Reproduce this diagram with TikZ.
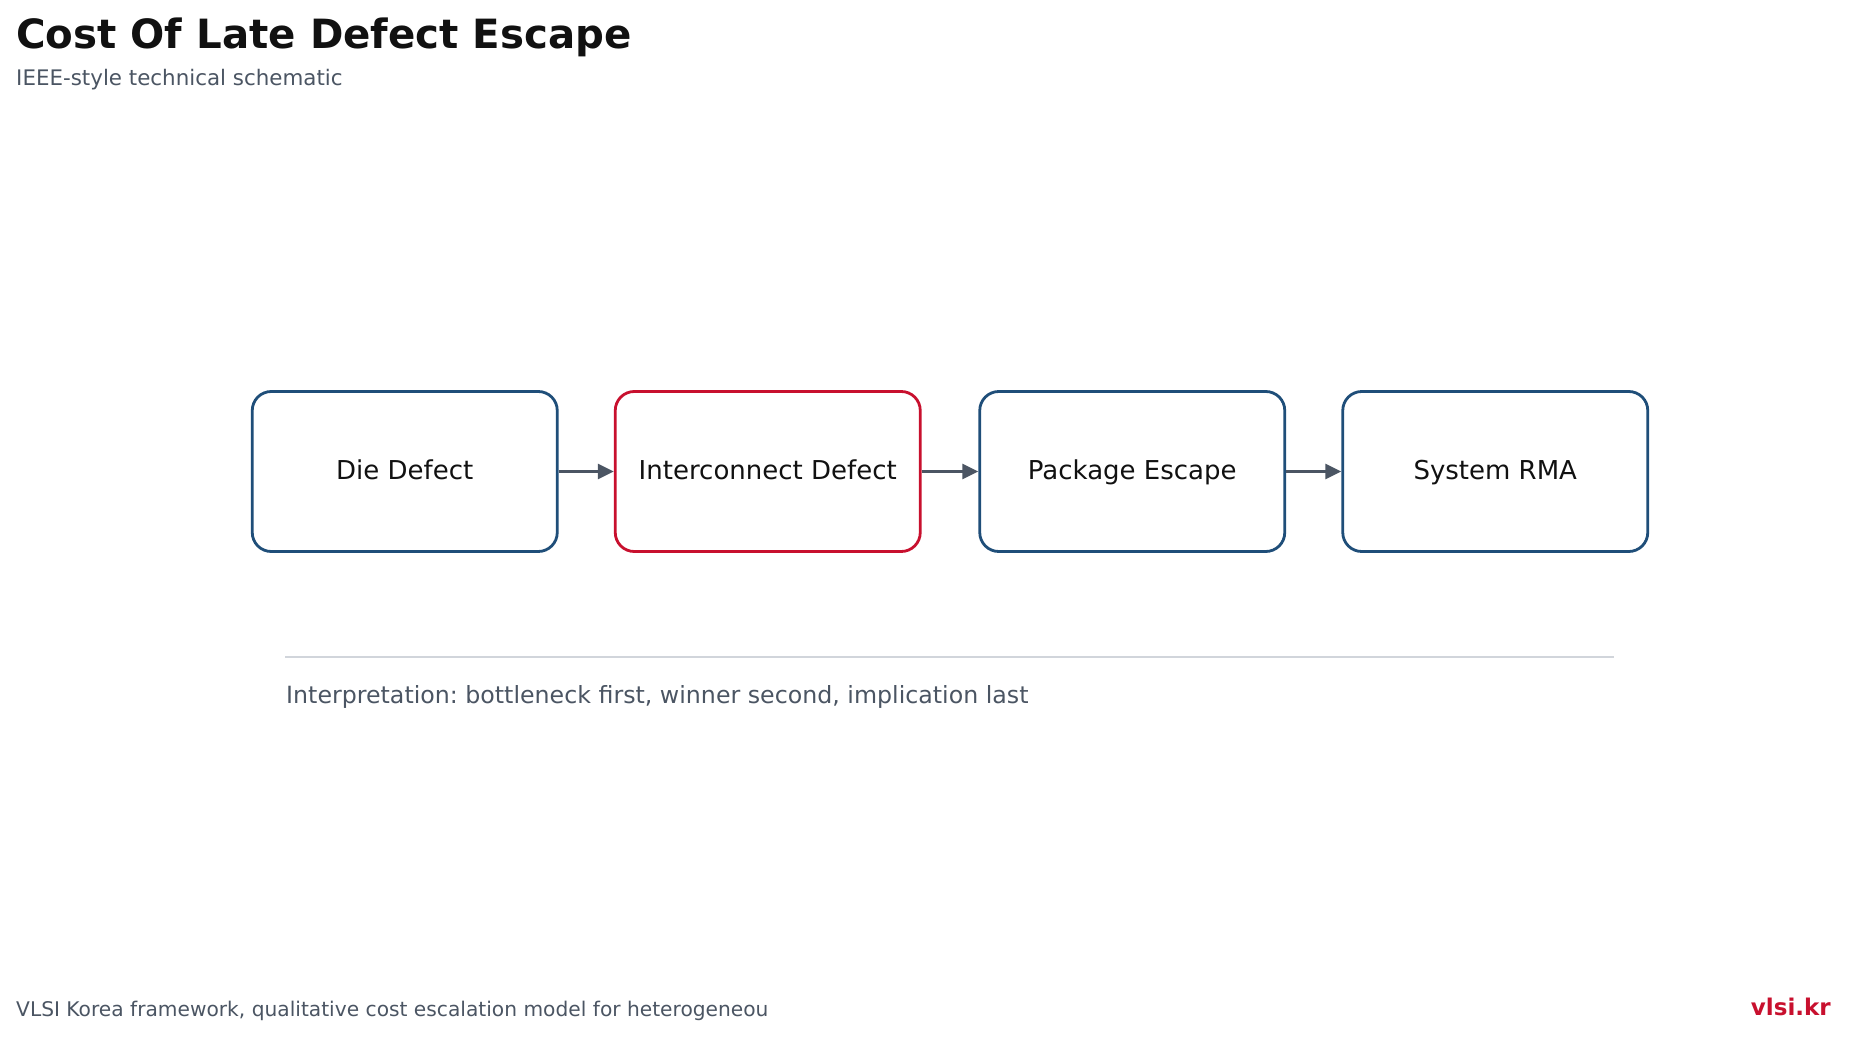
\documentclass[tikz,border=0pt]{standalone}
\usepackage{fontspec}
\setmainfont{DejaVu Sans}
\usetikzlibrary{arrows.meta}
\definecolor{inkdark}{HTML}{111111}
\definecolor{inkgray}{HTML}{4B5563}
\definecolor{boxblue}{HTML}{1F4E79}
\definecolor{accentred}{HTML}{C8102E}
\definecolor{rulegray}{HTML}{D1D5DB}
\frenchspacing
\begin{document}
\begin{tikzpicture}[x=1pt,y=-1pt,
    stage/.style={draw=boxblue,line width=2.8pt,rounded corners=19pt,fill=white,
      minimum width=305pt,minimum height=160pt,inner sep=0pt,
      text height=20pt,text depth=5pt,
      text=inkdark,font=\fontsize{26}{30}\selectfont},
    flow/.style={draw=inkgray,line width=2.5pt,-{Triangle[length=16pt,width=15pt]}}]
                \useasboundingbox [fill=white] (0,0) rectangle (1849,1038);
                % heading
                \node [anchor=base west,inner sep=0pt,text=inkdark,font=\fontsize{40.3}{48}\selectfont\bfseries] (title) at (16,49) {Cost Of Late Defect Escape};
                \node [anchor=base west,inner sep=0pt,text=inkgray,font=\fontsize{21.4}{25}\selectfont] (subtitle) at (16,86) {IEEE-style technical schematic};
                % stages
                \node [stage] (die) at (404.75,471.5) {Die Defect};
                \node [stage,draw=accentred] (inter) at (767.75,471.5) {Interconnect Defect};
                \node [stage] (pkg) at (1132.25,471.5) {Package Escape};
                \node [stage] (rma) at (1495.25,471.5) {System RMA};
                \draw [flow] (die.east) -- (inter.west);
                \draw [flow] (inter.east) -- (pkg.west);
                \draw [flow] (pkg.east) -- (rma.west);
                % interpretation
                \coordinate (ruleL) at (285,657);
                \coordinate (ruleR) at (1614,657);
                \draw [rulegray,line width=2pt] (ruleL) -- (ruleR);
                \node [anchor=base west,inner sep=0pt,text=inkgray,font=\fontsize{23.7}{28}\selectfont] (note) at (286,703) {Interpretation: bottleneck first, winner second, implication last};
                % footer
                \node [anchor=base west,inner sep=0pt,text=inkgray,font=\fontsize{20.2}{24}\selectfont] (source) at (16,1016) {VLSI Korea framework, qualitative cost escalation model for heterogeneou};
                \node [anchor=base east,inner sep=0pt,text=accentred,font=\fontsize{23}{27}\selectfont\bfseries] (brand) at (1831,1015) {vlsi.kr};
            \end{tikzpicture}
\end{document}
